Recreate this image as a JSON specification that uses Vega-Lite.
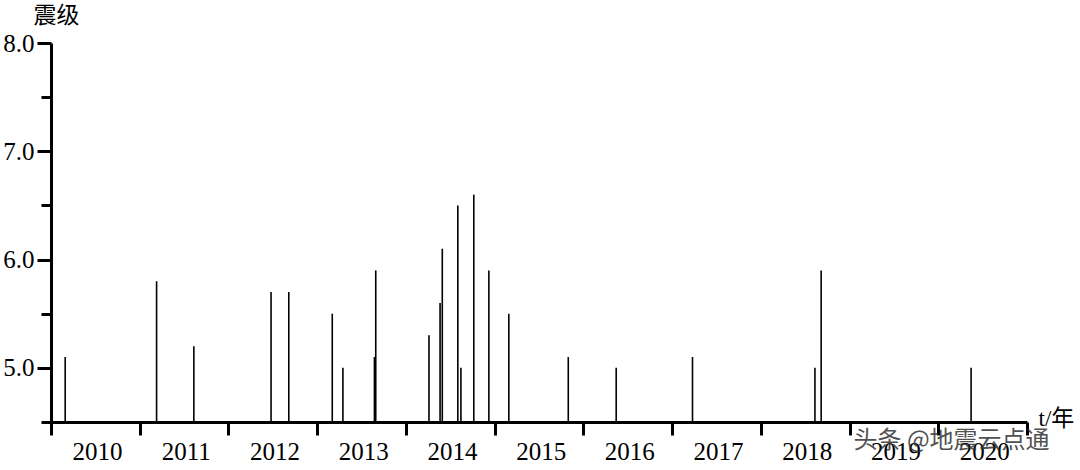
{
  "$schema": "https://vega.github.io/schema/vega-lite/v6.json",
  "width": 976,
  "height": 379,
  "autosize": {"type": "none"},
  "padding": {"left": 51, "top": 43, "right": 53, "bottom": 48},
  "background": "white",
  "config": {"view": {"stroke": null}, "font": "Liberation Serif"},
  "layer": [
    {
      "data": {
        "values": [
          {"t": 2010.16, "m": 5.1},
          {"t": 2011.19, "m": 5.8},
          {"t": 2011.61, "m": 5.2},
          {"t": 2012.48, "m": 5.7},
          {"t": 2012.68, "m": 5.7},
          {"t": 2013.17, "m": 5.5},
          {"t": 2013.29, "m": 5.0},
          {"t": 2013.645, "m": 5.1},
          {"t": 2013.66, "m": 5.9},
          {"t": 2014.26, "m": 5.3},
          {"t": 2014.385, "m": 5.6},
          {"t": 2014.41, "m": 6.1},
          {"t": 2014.585, "m": 6.5},
          {"t": 2014.62, "m": 5.0},
          {"t": 2014.765, "m": 6.6},
          {"t": 2014.935, "m": 5.9},
          {"t": 2015.16, "m": 5.5},
          {"t": 2015.83, "m": 5.1},
          {"t": 2016.37, "m": 5.0},
          {"t": 2017.23, "m": 5.1},
          {"t": 2018.61, "m": 5.0},
          {"t": 2018.68, "m": 5.9},
          {"t": 2020.37, "m": 5.0}
        ]
      },
      "mark": {"type": "rule", "color": "black", "strokeWidth": 1.6},
      "encoding": {
        "x": {
          "field": "t",
          "type": "quantitative",
          "scale": {"domain": [2010, 2021], "nice": false, "zero": false},
          "axis": {
            "values": [2010, 2011, 2012, 2013, 2014, 2015, 2016, 2017, 2018, 2019, 2020, 2021],
            "format": "d",
            "labelExpr": "datum.value >= 2021 ? '' : datum.label",
            "labelOffset": 46,
            "labelFlush": false,
            "labelOverlap": false,
            "labelFontSize": 25,
            "labelFont": "Liberation Serif",
            "labelColor": "black",
            "labelPadding": 4,
            "tickSize": 13,
            "tickWidth": 3,
            "tickColor": "black",
            "domainWidth": 3,
            "domainColor": "black",
            "grid": false,
            "title": "t/年",
            "titleX": 987,
            "titleY": 3,
            "titleAlign": "left",
            "titleBaseline": "alphabetic",
            "titleFont": "Liberation Serif, Noto Sans CJK SC",
            "titleFontSize": 23,
            "titleFontWeight": "normal",
            "titleColor": "black"
          }
        },
        "y": {
          "field": "m",
          "type": "quantitative",
          "scale": {"domain": [4.5, 8], "nice": false, "zero": false},
          "axis": {
            "values": [4.5, 5, 5.5, 6, 6.5, 7, 7.5, 8],
            "format": ".1f",
            "labelExpr": "datum.value % 1 === 0 ? datum.label : ''",
            "labelFontSize": 25,
            "labelFont": "Liberation Serif",
            "labelColor": "black",
            "labelPadding": 3,
            "labelOverlap": false,
            "tickSize": {"condition": {"test": "datum.value % 1 === 0", "value": 14}, "value": 10},
            "tickWidth": 3,
            "tickColor": "black",
            "domainWidth": 3,
            "domainColor": "black",
            "grid": false,
            "title": "震级",
            "titleAngle": 0,
            "titleX": 5,
            "titleY": -16,
            "titleAlign": "center",
            "titleBaseline": "bottom",
            "titleFont": "Noto Sans CJK SC",
            "titleFontSize": 23,
            "titleFontWeight": "normal",
            "titleColor": "black"
          }
        },
        "y2": {"datum": 4.5}
      }
    },
    {
      "data": {"values": [{"x": 2020.15, "y": 4.32, "label": "头条 @地震云点通"}]},
      "mark": {"type": "text", "font": "Noto Sans CJK SC", "fontSize": 24, "color": "#333333", "opacity": 0.85, "baseline": "middle", "align": "center"},
      "encoding": {
        "x": {"field": "x", "type": "quantitative"},
        "y": {"field": "y", "type": "quantitative"},
        "text": {"field": "label"}
      }
    }
  ]
}
